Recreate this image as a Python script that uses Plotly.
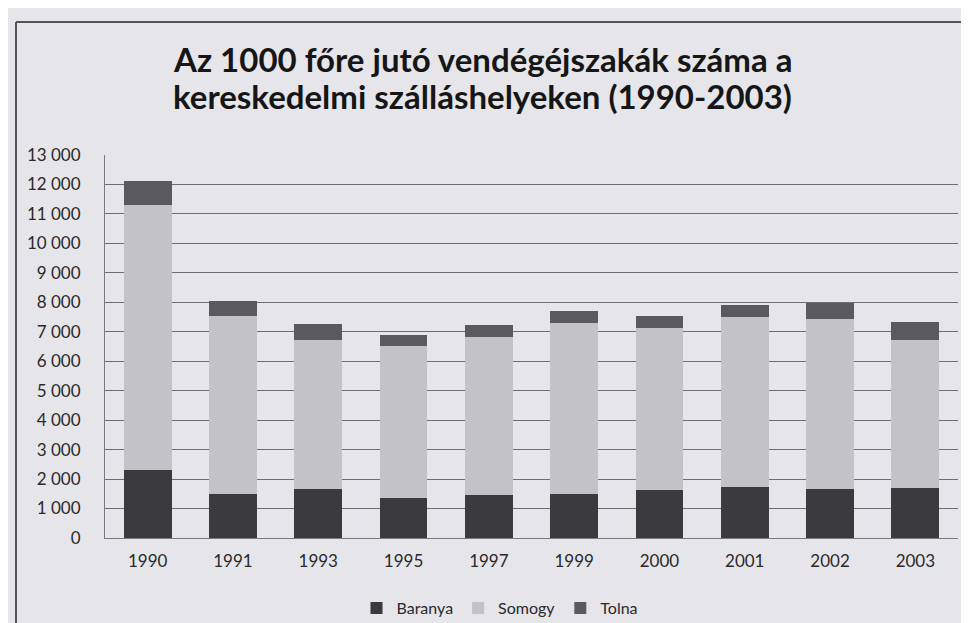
import plotly.graph_objects as go

years = ["1990", "1991", "1993", "1995", "1997", "1999", "2000", "2001", "2002", "2003"]
baranya = [2320, 1490, 1660, 1360, 1450, 1500, 1620, 1730, 1670, 1700]
somogy = [8990, 6040, 5050, 5170, 5380, 5800, 5510, 5770, 5780, 5010]
tolna = [800, 500, 550, 370, 390, 420, 400, 420, 540, 630]
y_ticks = [0, 1000, 2000, 3000, 4000, 5000, 6000, 7000, 8000, 9000, 10000, 11000, 12000, 13000]
y_ticktext = ["0", "1 000", "2 000", "3 000", "4 000", "5 000", "6 000", "7 000", "8 000",
              "9 000", "10 000", "11 000", "12 000", "13 000"]
title_lines = ["Az 1000 főre jutó vendégéjszakák száma a",
               "kereskedelmi szálláshelyeken (1990-2003)"]

W, H = 969, 623
L, R, T, B = 97, 19, 147, 93
pw, ph = W - L - R, H - T - B

def px_x(x):
    return (x - L) / pw

def px_y(y):
    return (H - B - y) / ph

bg = "#e5e5ea"
font_family = "Lato, 'Open Sans', sans-serif"

fig = go.Figure()
fig.add_trace(go.Bar(name="Baranya", x=years, y=baranya, marker=dict(color="#3b3b3e", line=dict(width=0))))
fig.add_trace(go.Bar(name="Somogy", x=years, y=somogy, marker=dict(color="#c3c3c7", line=dict(width=0))))
fig.add_trace(go.Bar(name="Tolna", x=years, y=tolna, marker=dict(color="#5a5a5e", line=dict(width=0))))

fig.update_layout(
    barmode="stack",
    bargap=0.44,
    width=W,
    height=H,
    paper_bgcolor=bg,
    plot_bgcolor=bg,
    margin=dict(l=L, r=R, t=T, b=B, autoexpand=False),
    font=dict(family=font_family, color="#2a2a2a", size=17),
    xaxis=dict(
        showgrid=False, showline=True, linecolor="#7a7a7e", linewidth=1,
        ticks="", tickfont=dict(size=17, color="#2a2a2a"), ticklabelstandoff=8,
        automargin=False,
    ),
    yaxis=dict(
        range=[0, 13000], tickvals=y_ticks, ticktext=y_ticktext,
        showgrid=True, gridcolor="#6e6e72", gridwidth=1,
        showline=True, linecolor="#7a7a7e", linewidth=1,
        zeroline=False, ticks="", tickfont=dict(size=17, color="#2a2a2a"),
        ticklabelstandoff=20, automargin=False,
    ),
    legend=dict(
        orientation="h", x=px_x(492), xanchor="center", y=px_y(600), yanchor="middle",
        font=dict(size=16, color="#2a2a2a"), bgcolor="rgba(0,0,0,0)",
        itemwidth=30, traceorder="normal",
    ),
    showlegend=True,
)

for line, yc in zip(title_lines, [51, 88]):
    fig.add_annotation(
        text="<b>" + line + "</b>", xref="paper", yref="paper",
        x=px_x(163), y=px_y(yc), xanchor="left", yanchor="middle",
        showarrow=False, font=dict(family=font_family, size=33, color="#161616"),
    )

# chart frame border
fig.add_shape(type="line", xref="paper", yref="paper", x0=px_x(8), x1=px_x(8),
              y0=px_y(640), y1=px_y(14), line=dict(color="#555558", width=2))
fig.add_shape(type="line", xref="paper", yref="paper", x0=px_x(8), x1=px_x(980),
              y0=px_y(14), y1=px_y(14), line=dict(color="#555558", width=2))

fig.write_html("out.html")
